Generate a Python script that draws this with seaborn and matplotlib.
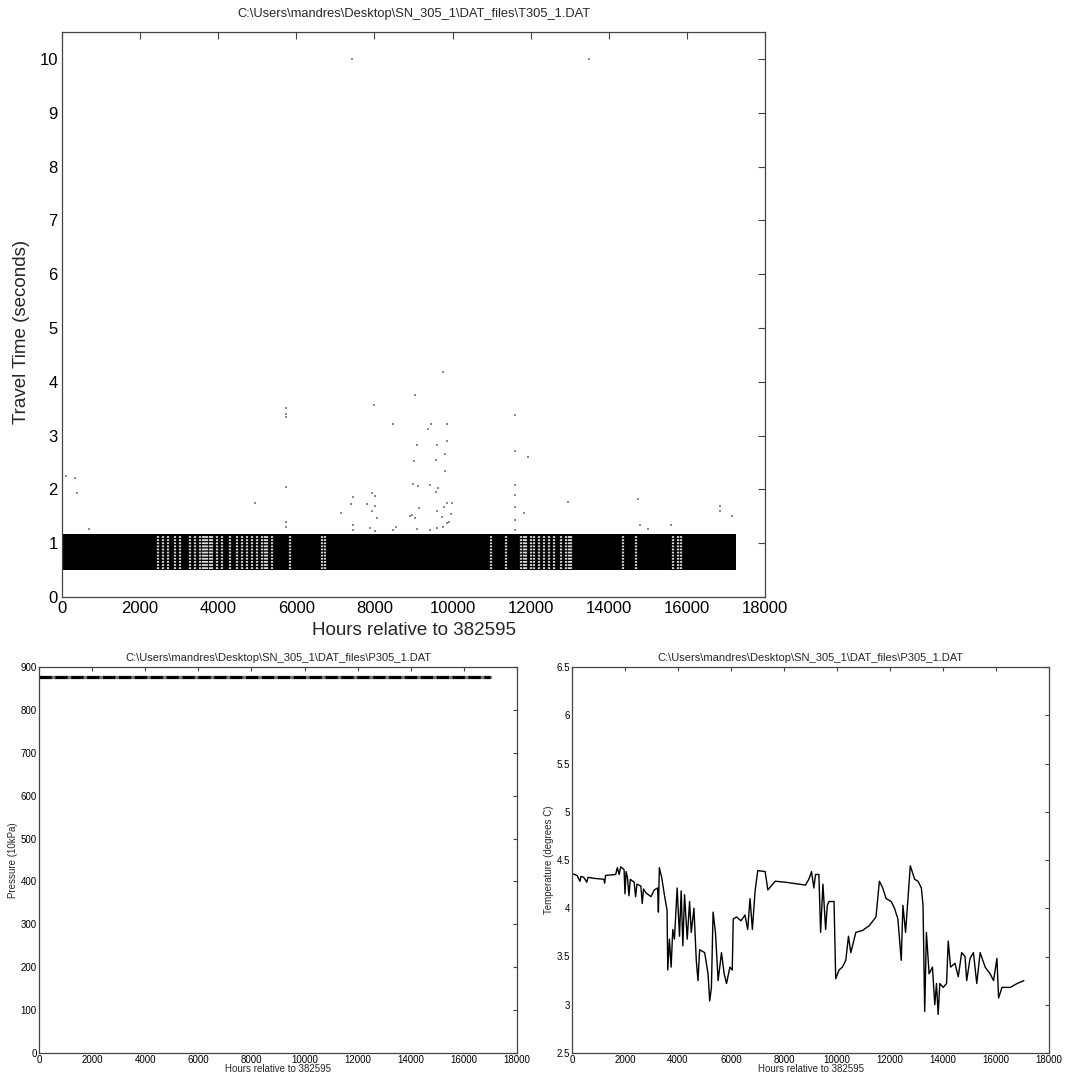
import numpy as np
import pandas as pd
import matplotlib
matplotlib.use('Agg')
import matplotlib.pyplot as plt
import seaborn as sns
from matplotlib.ticker import FuncFormatter

sns.set_theme(style='white')
plt.rcParams['font.family'] = ['Liberation Sans', 'DejaVu Sans']

# ---------------- data ----------------
title_top = r"C:\Users\mandres\Desktop\SN_305_1\DAT_files\T305_1.DAT"
title_bottom = r"C:\Users\mandres\Desktop\SN_305_1\DAT_files\P305_1.DAT"

# dense travel-time band (hours range and travel-time limits)
band_hours = [0, 17250]
band_low = [0.5, 0.5]
band_high = [1.17, 1.17]

# hours where the band is sparse (white streaks)
gap_hours = [2449, 2577, 2704, 2895, 3023, 3278, 3406, 3533, 3600, 3661, 3724,
             3790, 3852, 3980, 4107, 4298, 4490, 4617, 4745, 4872, 5000, 5128,
             5190, 5255, 5383, 5829, 6658, 6722, 10995, 11378, 11760, 11824,
             11888, 12015, 12079, 12207, 12334, 12462, 12589, 12781, 12908,
             12970, 13036, 14375, 14694, 15651, 15778, 15842]

# outlying travel times
out_hours = [103, 334, 377, 703, 4937, 5743, 5743, 5743, 5743, 5743, 5743,
             7149, 7388, 7448, 7448, 7448, 7430, 7817, 7937, 8005, 7989, 8005,
             7937, 8074, 7877, 8005, 8477, 8477, 8563, 8905,
             9051, 9750, 9377, 9445, 9857, 9077, 9591, 9857, 9017, 9574, 9814,
             9814, 8991, 9120, 9420, 9634, 9574, 9137, 9591, 9788, 9857, 9977,
             8949, 9034, 9720, 9960, 9857, 9900, 9077, 9420, 9591, 9763,
             11606, 11606, 11931, 11606, 11606, 11606, 11606, 11820, 11606,
             12952, 13500, 14760, 14811, 15017, 15600, 16860, 16860, 17159]
out_tt = [2.25, 2.22, 1.93, 1.26, 1.74, 3.51, 3.40, 3.34, 2.05, 1.40, 1.31,
          1.57, 1.72, 1.86, 1.33, 1.25, 10.0, 1.72, 1.94, 1.88, 3.56, 1.70,
          1.60, 1.47, 1.28, 1.23, 3.22, 1.25, 1.31, 1.51,
          3.76, 4.18, 3.12, 3.21, 3.21, 2.83, 2.83, 2.89, 2.53, 2.55, 2.66,
          2.35, 2.10, 2.06, 2.08, 2.03, 1.96, 1.65, 1.60, 1.68, 1.74, 1.75,
          1.52, 1.46, 1.48, 1.54, 1.38, 1.39, 1.26, 1.25, 1.29, 1.31,
          3.38, 2.71, 2.61, 2.09, 1.89, 1.67, 1.43, 1.57, 1.25,
          1.77, 10.0, 1.82, 1.33, 1.26, 1.33, 1.69, 1.59, 1.51]

# pressure
pres_hours = [0, 17000]
pres_val = [876, 876]

# temperature
temp_hours = [0, 190, 300, 340, 444, 560, 600, 824, 1204, 1230, 1268, 1648,
              1711, 1780, 1838, 1965, 2000, 2040, 2092, 2150, 2200, 2345, 2400,
              2450, 2599, 2650, 2700, 2789, 2979, 3106, 3232, 3260, 3296, 3384,
              3486, 3587, 3613, 3676,
              3740, 3803, 3866, 3968, 4056, 4120, 4183, 4247, 4348, 4437, 4500,
              4601, 4690, 4754, 4817, 5007, 5134, 5197, 5261, 5324, 5413, 5514,
              5641, 5742, 5831, 5958, 6047, 6085, 6211, 6376, 6528, 6630, 6718,
              6807, 6909, 7010, 7289, 7390, 7669, 8049, 8810, 8937, 9038, 9127,
              9190, 9317, 9381, 9469, 9571, 9634, 9698, 9825, 9888, 9951, 10078,
              10204, 10331, 10433, 10521, 10711, 10965, 11218, 11472, 11599,
              11726, 11853, 12043, 12170, 12297, 12424, 12487, 12588, 12677,
              12766, 12931, 13056, 13184, 13246, 13310, 13374, 13475, 13602,
              13690, 13755, 13817, 13880, 14007, 14134, 14197, 14286, 14451,
              14577, 14704, 14831, 14894, 15021, 15148, 15274, 15401, 15591,
              15781, 15908, 16035, 16098, 16225, 16543, 16796, 17050]
temp_c = [4.36, 4.34, 4.28, 4.33, 4.32, 4.27, 4.32, 4.31, 4.30, 4.26, 4.34, 4.35,
          4.42, 4.35, 4.43, 4.40, 4.15, 4.38, 4.32, 4.13, 4.30, 4.27, 4.12,
          4.25, 4.23, 4.05, 4.20, 4.16, 4.12, 4.19, 4.21, 3.96, 4.42, 4.32,
          4.14, 3.98, 3.36, 3.68,
          3.39, 3.78, 3.68, 4.21, 3.71, 4.18, 3.61, 4.14, 3.68, 4.07, 3.75,
          4.00, 3.46, 3.25, 3.57, 3.54, 3.32, 3.04, 3.18, 3.96, 3.75, 3.25,
          3.54, 3.32, 3.22, 3.39, 3.36, 3.89, 3.91, 3.87, 3.93, 3.78, 4.10,
          3.78, 4.18, 4.39, 4.38, 4.19, 4.28, 4.27, 4.24, 4.30, 4.38, 4.21,
          4.35, 4.35, 3.75, 4.25, 3.78, 4.03, 4.07, 4.07, 4.07, 3.27, 3.36,
          3.39, 3.46, 3.71, 3.54, 3.75, 3.77, 3.82, 3.91, 4.28,
          4.21, 4.10, 4.07, 4.00, 3.89, 3.46, 4.03, 3.75, 4.10,
          4.44, 4.30, 4.28, 4.21, 4.03, 2.93, 3.75, 3.32, 3.39,
          3.00, 3.22, 2.90, 3.22, 3.18, 3.22, 3.66, 3.39, 3.43,
          3.29, 3.54, 3.50, 3.25, 3.48, 3.54, 3.22, 3.54, 3.39,
          3.32, 3.25, 3.48, 3.07, 3.18, 3.18, 3.22, 3.25]

x_ticks = list(range(0, 18001, 2000))

# ---------------- figure ----------------
W, H = 1065, 1076
fig = plt.figure(figsize=(W / 100, H / 100), dpi=100)

def box(l, t, r, b):
    return [l / W, 1 - b / H, (r - l) / W, (b - t) / H]

fmt = FuncFormatter(lambda v, p: '%g' % v)
frame = '#444444'

def style(ax, fs, ln, pad):
    for s in ax.spines.values():
        s.set_color(frame)
        s.set_linewidth(0.9)
        s.set_visible(True)
    ax.tick_params(direction='in', top=True, right=True, length=ln, width=0.8,
                   color=frame, labelsize=fs, pad=pad, labelcolor='black')
    ax.yaxis.set_major_formatter(fmt)
    ax.xaxis.set_major_formatter(fmt)
    ax.grid(False)

# top: travel time
ax1 = fig.add_axes(box(62, 32, 765, 597))
ax1.fill_between(band_hours, band_low, band_high, color='black', lw=0)
ax1.vlines(gap_hours, 0.52, 1.14, colors='white', lw=1.6,
           linestyles=(0, (0.8, 0.6)), alpha=0.85)
sns.scatterplot(x=out_hours, y=out_tt, ax=ax1, s=2.5, color='#8a8a8a',
                linewidth=0, marker='s')
ax1.set_xlim(0, 18000)
ax1.set_ylim(0, 10.5)
ax1.set_xticks(x_ticks)
ax1.set_yticks(range(0, 11))
style(ax1, 12, 5, 3)
ax1.set_title(title_top, fontsize=9.3, pad=11)
ax1.set_xlabel('Hours relative to 382595', fontsize=13.5, labelpad=4)
ax1.set_ylabel('Travel Time (seconds)', fontsize=13.5)
ax1.yaxis.set_label_coords(-0.045, 0.47)

# bottom-left: pressure
ax2 = fig.add_axes(box(39, 667, 517, 1053))
sns.lineplot(x=pres_hours, y=pres_val, ax=ax2, color='#777777', lw=2.4)
sns.lineplot(x=pres_hours, y=pres_val, ax=ax2, color='black', lw=2.2,
             linestyle=(0, (4, 1.2)))
ax2.set_xlim(0, 18000)
ax2.set_ylim(0, 900)
ax2.set_xticks(x_ticks)
ax2.set_yticks(range(0, 901, 100))
style(ax2, 7, 3, 1.5)
ax2.set_title(title_bottom, fontsize=8, pad=4)
ax2.set_xlabel('Hours relative to 382595', fontsize=7, labelpad=-0.5)
ax2.set_ylabel('Pressure (10kPa)', fontsize=7, labelpad=2)

# bottom-right: temperature
ax3 = fig.add_axes(box(572, 667, 1049, 1053))
sns.lineplot(x=temp_hours, y=temp_c, ax=ax3, color='black', lw=1.0,
             sort=False, estimator=None)
ax3.set_xlim(0, 18000)
ax3.set_ylim(2.5, 6.5)
ax3.set_xticks(x_ticks)
ax3.set_yticks(np.arange(2.5, 6.51, 0.5))
style(ax3, 7, 3, 1.5)
ax3.set_title(title_bottom, fontsize=8, pad=4)
ax3.set_xlabel('Hours relative to 382595', fontsize=7, labelpad=-0.5)
ax3.set_ylabel('Temperature (degrees C)', fontsize=7, labelpad=2)

fig.savefig('out.png', dpi=100, facecolor='white')
